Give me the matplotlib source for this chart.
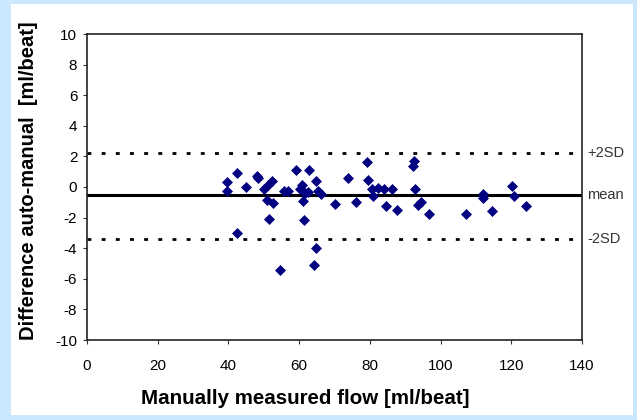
import matplotlib
matplotlib.use("Agg")
import matplotlib.pyplot as plt
from matplotlib.patches import Rectangle

flow = [39.7, 39.7, 42.3, 42.3, 44.9, 48.2, 48.5, 50.2, 51.3, 52.2,
        50.8, 52.7, 51.6, 54.6, 55.8, 56.9, 59.1, 60.2, 60.7, 61.7,
        61.2, 61.4, 62.6, 62.9, 64.8, 65.4, 66.2, 64.9, 64.2, 70.1,
        73.7, 76.1, 79.1, 79.5, 80.5, 81.0, 82.2, 84.1, 84.5, 86.2,
        87.8, 92.6, 92.3, 92.8, 93.7, 94.6, 96.6, 107.2, 111.9, 112.1,
        114.5, 120.3, 120.9, 124.3]
diff = [0.34, -0.23, 0.89, -2.98, 0.0, 0.71, 0.59, -0.12, 0.10, 0.38,
        -0.82, -1.04, -2.09, -5.41, -0.27, -0.27, 1.11, -0.16, 0.10, -0.38,
        -0.93, -2.13, -0.34, 1.11, 0.38, -0.27, -0.49, -3.97, -5.07, -1.08,
        0.62, -0.99, 1.64, 0.46, -0.16, -0.60, -0.08, -0.13, -1.26, -0.12,
        -1.49, 1.69, 1.36, -0.12, -1.18, -0.99, -1.74, -1.74, -0.49, -0.71,
        -1.54, 0.07, -0.60, -1.26]

mean_val = -0.55
upper_sd = 2.22
lower_sd = -3.38
ref_labels = ["+2SD", "mean", "-2SD"]

plt.rcParams['font.family'] = ['Liberation Sans', 'DejaVu Sans']
plt.rcParams['axes.unicode_minus'] = False

fig = plt.figure(figsize=(6.37, 4.2), dpi=100)
fig.patch.set_facecolor('#cce8ff')
fig.patches.append(Rectangle((11/637, 1 - 415/420), (633-11)/637, (415-4)/420,
                             transform=fig.transFigure, facecolor='white',
                             edgecolor='none', zorder=-10))

ax = fig.add_axes([87/637, 1 - 340/420, (582-87)/637, (340-34)/420])
ax.set_facecolor('white')

ax.plot([0, 140], [upper_sd, upper_sd], color='black', lw=2.0,
        linestyle=(0, (1.4, 3.7)), zorder=2)
ax.plot([0, 140], [lower_sd, lower_sd], color='black', lw=2.0,
        linestyle=(0, (1.4, 3.7)), zorder=2)
ax.plot([0, 140], [mean_val, mean_val], color='black', lw=2.2, zorder=2)

ax.plot(flow, diff, linestyle='none', marker='D', ms=4.8,
        color='#000080', mec='#000080', mew=0.5, zorder=3)

ax.set_xlim(0, 140)
ax.set_ylim(-10, 10)
ax.set_xticks(range(0, 141, 20))
ax.set_yticks(range(-10, 11, 2))
ax.tick_params(direction='out', length=3, width=0.8, labelsize=11,
               colors='#333333', labelcolor='black')
ax.tick_params(axis='y', pad=4)
ax.tick_params(axis='x', pad=11)
for s in ax.spines.values():
    s.set_linewidth(1.2)
    s.set_color('#222222')

for val, lab in zip([upper_sd, mean_val, lower_sd], ref_labels):
    ax.text(1.01, val, lab, transform=ax.get_yaxis_transform(),
            va='center', ha='left', fontsize=10.5, color='#333333')

ax.set_xlabel('Manually measured flow [ml/beat]', fontsize=14.8,
              fontweight='bold')
ax.xaxis.set_label_coords((305 - 87) / 495, -(398 - 340) / 306)
ax.xaxis.label.set_va('center')
ax.set_ylabel('Difference auto-manual  [ml/beat]', fontsize=14.5,
              fontweight='bold')
ax.yaxis.set_label_coords(-(87 - 29) / 495, (340 - 181) / 306)
ax.yaxis.label.set_va('center')

fig.savefig('out.png', dpi=100, facecolor=fig.get_facecolor())
